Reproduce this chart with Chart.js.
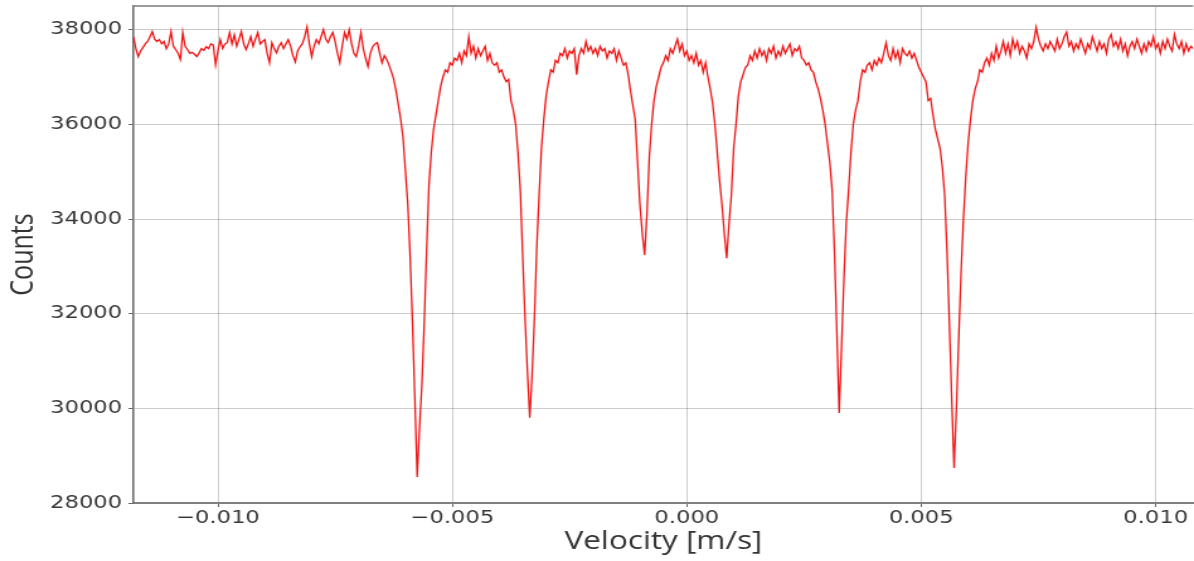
<!DOCTYPE html>
<html>
<head>
<meta charset="utf-8">
<title>Counts vs Velocity</title>
<script src="https://cdn.jsdelivr.net/npm/chart.js@4.4.1/dist/chart.umd.min.js"></script>
<style>
    html, body { margin: 0; padding: 0; background: #fff; overflow: hidden; }
    /* the source picture is stretched sideways, so the chart is too */
    #wrap { width: 948px; height: 561px; transform: scaleX(1.2595); transform-origin: 0 0; }
</style>
</head>
<body>
<div id="wrap"><canvas id="chart"></canvas></div>
<script>
    // channel calibration: first channel and step, in m/s
    var V_START = -0.0118;
    var V_STEP  = 0.00005;

    var xTicks = [-0.010, -0.005, 0.000, 0.005, 0.010];
    var yTicks = [28000, 30000, 32000, 34000, 36000, 38000];

    // counts per channel
    var counts = [
        37850, 37600, 37430, 37550, 37620, 37700, 37750, 37850, 37960, 37800,
        37750, 37790, 37700, 37750, 37600, 37700, 37960, 37650, 37580, 37500,
        37370, 37940, 37650, 37580, 37500, 37520, 37480, 37430, 37510, 37600,
        37560, 37640, 37600, 37700, 37680, 37260, 37550, 37790, 37600, 37700,
        37725, 37940, 37700, 37890, 37650, 37800, 37960, 37700, 37580, 37700,
        37850, 37650, 37800, 37940, 37700, 37750, 37790, 37500, 37300, 37725,
        37600, 37510, 37650, 37725, 37600, 37700, 37790, 37650, 37450, 37320,
        37550, 37640, 37700, 37850, 38060, 37700, 37430, 37650, 37790, 37700,
        37850, 38000, 37800, 37725, 37850, 37940, 37750, 37500, 37300, 37650,
        37940, 37800, 38000, 37700, 37500, 37430, 37650, 37940, 37600, 37400,
        37220, 37500, 37640, 37700, 37725, 37500, 37300, 37450, 37370, 37250,
        37110, 36950, 36700, 36400, 36100, 35700, 35000, 34300, 33200, 31800,
        30200, 28550, 29600, 30500, 31800, 33300, 34700, 35400, 35900, 36200,
        36500, 36800, 37000, 37150, 37100, 37300, 37250, 37400, 37350, 37500,
        37300, 37550, 37450, 37850, 37500, 37650, 37400, 37600, 37450, 37550,
        37650, 37350, 37500, 37300, 37250, 37300, 37100, 37150, 37000, 36900,
        36950, 36500, 36300, 36000, 35400, 34600, 33200, 31900, 30800, 29800,
        30700, 31900, 33400, 34500, 35500, 36100, 36600, 36900, 37150, 37100,
        37350, 37300, 37500, 37450, 37600, 37400, 37550, 37500, 37600, 37050,
        37450, 37600, 37500, 37750, 37550, 37650, 37500, 37600, 37450, 37650,
        37550, 37600, 37400, 37550, 37500, 37600, 37350, 37550, 37400, 37250,
        37300, 37050, 36700, 36400, 36100, 35200, 34300, 33700, 33240, 34100,
        35300, 36000, 36500, 36800, 37000, 37200, 37300, 37450, 37350, 37600,
        37500, 37650, 37800, 37550, 37700, 37450, 37550, 37350, 37450, 37300,
        37500, 37250, 37350, 37100, 37300, 37000, 36750, 36450, 36000, 35400,
        34800, 34300, 33700, 33170, 33900, 34500, 35500, 36000, 36600, 36900,
        37050, 37200, 37250, 37450, 37350, 37550, 37400, 37600, 37450, 37550,
        37350, 37600, 37500, 37650, 37400, 37550, 37450, 37650, 37500, 37600,
        37700, 37450, 37600, 37550, 37650, 37400, 37350, 37250, 37300, 37150,
        37100, 36900, 36750, 36550, 36300, 36000, 35600, 35200, 34600, 33300,
        31600, 29900, 31300, 32700, 33900, 34600, 35400, 36000, 36300, 36500,
        36900, 37150, 37100, 37250, 37300, 37150, 37350, 37250, 37400, 37300,
        37500, 37720, 37450, 37350, 37600, 37400, 37550, 37300, 37600, 37500,
        37450, 37550, 37400, 37500, 37350, 37200, 37100, 37000, 36900, 36500,
        36550, 36200, 35900, 35700, 35500, 35100, 34500, 33300, 31800, 30200,
        28740, 30000, 31500, 32900, 34000, 34900, 35600, 36100, 36500, 36750,
        36900, 37150, 37100, 37300, 37400, 37250, 37500, 37350, 37650, 37400,
        37550, 37750, 37500, 37700, 37450, 37800, 37600, 37750, 37500, 37650,
        37550, 37400, 37700, 37600, 37750, 38050, 37800, 37650, 37550, 37700,
        37600, 37750, 37650, 37550, 37800, 37600, 37700, 37850, 37950, 37650,
        37750, 37550, 37700, 37600, 37800, 37650, 37500, 37700, 37600, 37850,
        37700, 37550, 37750, 37600, 37700, 37500, 37800, 37900, 37650, 37750,
        37600, 37800, 37550, 37700, 37450, 37650, 37750, 37600, 37800, 37650,
        37500, 37700, 37550, 37750, 37650, 37850, 37600, 37700, 37500, 37750,
        37600, 37800, 37650, 37550, 37900, 37700, 37600, 37750, 37500, 37700,
        37550, 37650, 37600
    ];

    var points = counts.map(function(c, i) {
        return { x: V_START + i * V_STEP, y: c };
    });

    var tickFont  = { family: "DejaVu Sans", size: 18 };
    var titleFont = { family: "Open Sans", size: 25 };

    function fmtX(value) {
        return (value < 0 ? "\u2212" : "") + Math.abs(value).toFixed(3);
    }

    function fmtY(value) {
        return String(value);
    }

    // top frame line
    var topSpine = {
        id: "topSpine",
        afterDraw: function(chart) {
            var ctx = chart.ctx, area = chart.chartArea;
            ctx.save();
            ctx.strokeStyle = "#9a9a9a";
            ctx.lineWidth = 2;
            ctx.beginPath();
            ctx.moveTo(area.left, area.top);
            ctx.lineTo(area.right, area.top);
            ctx.stroke();
            ctx.restore();
        }
    };

    var chartConfig = {
        type: "line",
        data: {
            datasets: [{
                data: points,
                borderColor: "#f01414",
                borderWidth: 1.3,
                pointRadius: 0,
                tension: 0,
                fill: false
            }]
        },
        options: {
            responsive: true,
            maintainAspectRatio: false,
            animation: false,
            layout: { padding: { top: 6, left: 0, right: 0, bottom: 0 } },
            plugins: {
                legend: { display: false },
                tooltip: { enabled: false }
            },
            scales: {
                x: {
                    type: "linear",
                    min: -0.0118,
                    max: 0.0108,
                    afterBuildTicks: function(scale) {
                        scale.ticks = xTicks.map(function(v) { return { value: v }; });
                    },
                    afterFit: function(scale) {
                        scale.height = 58;
                        scale.paddingLeft = 0;
                        scale.paddingRight = 0;
                    },
                    grid: {
                        color: "rgba(0,0,0,0.2)",
                        borderDash: [6, 2],
                        tickLength: 4,
                        tickColor: "#666",
                        tickBorderDash: []
                    },
                    border: { color: "#808080", width: 2 },
                    ticks: {
                        font: tickFont,
                        color: "#383838",
                        padding: 1,
                        maxRotation: 0,
                        callback: fmtX
                    },
                    title: {
                        display: true,
                        text: "Velocity [m/s]",
                        font: titleFont,
                        color: "#333",
                        padding: { top: 0, bottom: 4 }
                    }
                },
                y: {
                    min: 28000,
                    max: 38500,
                    afterBuildTicks: function(scale) {
                        scale.ticks = yTicks.map(function(v) { return { value: v }; });
                    },
                    afterFit: function(scale) {
                        scale.width = 106;
                        scale.paddingTop = 0;
                        scale.paddingBottom = 0;
                    },
                    grid: {
                        color: "rgba(0,0,0,0.2)",
                        borderDash: [6, 2],
                        tickLength: 4,
                        tickColor: "#666",
                        tickBorderDash: []
                    },
                    border: { color: "#707070", width: 1.6 },
                    ticks: {
                        font: tickFont,
                        color: "#383838",
                        padding: 5,
                        callback: fmtY
                    },
                    title: {
                        display: true,
                        text: "Counts",
                        font: titleFont,
                        color: "#333",
                        padding: { top: 4, bottom: 0 }
                    }
                }
            }
        },
        plugins: [topSpine]
    };

    var ctx = document.getElementById("chart").getContext("2d");
    var chart = new Chart(ctx, chartConfig);
</script>
</body>
</html>
